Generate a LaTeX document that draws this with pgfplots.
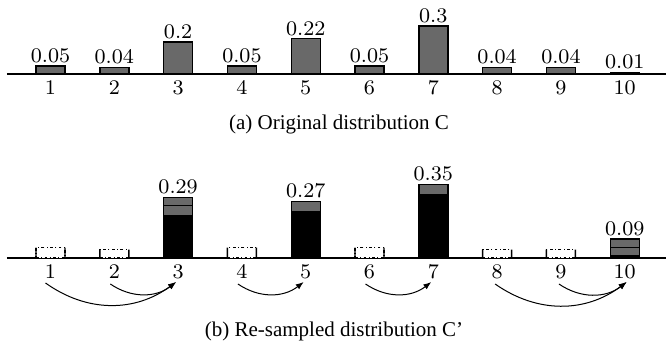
\documentclass[border=0pt]{standalone}
\usepackage{fontspec}
\setmainfont{Liberation Serif}
\usepackage{graphicx}
\usepackage{pgfplots}
\pgfplotsset{compat=1.18}
\usetikzlibrary{arrows.meta}
\definecolor{barg}{RGB}{105,105,105}
\begin{document}
\begin{tikzpicture}
\pgfplotsset{
  twoaxes/.style={
    anchor=south west, scale only axis,
    width=329.5pt, xmin=0.318, xmax=10.647, ymin=0,
    axis x line=bottom, axis y line=none,
    axis line style={-, line width=0.8pt},
    xtick={1,...,10}, major tick length=0pt, ytick=\empty,
    tick label style={font=\fontsize{8}{9}\selectfont},
    xticklabel={\scalebox{1.3}{\axisdefaultticklabel}},
    clip=false,
  },
  valbar/.style={ybar, bar shift=0pt, bar width=14.5pt, draw=black, line width=0.7pt},
  vals/.style={nodes near coords={\scalebox{1.3}{\pgfmathprintnumber[fixed,precision=2]{\pgfplotspointmeta}}},
    every node near coord/.append style={font=\fontsize{8}{9}\selectfont, inner sep=1.5pt, black}},
}
% Top: original distribution
\begin{axis}[twoaxes, at={(3.5pt,141pt)}, height=28pt, ymax=0.35]
\addplot[valbar, fill=barg, vals] coordinates {(1,0.05)(2,0.04)(3,0.2)(4,0.05)(5,0.22)(6,0.05)(7,0.3)(8,0.04)(9,0.04)(10,0.01)};
\end{axis}
% Bottom: re-sampled distribution
\begin{axis}[twoaxes, at={(3.5pt,49pt)}, height=44pt, ymax=0.42]
\addplot[valbar, fill=barg, vals] coordinates {(3,0.29)(5,0.27)(7,0.35)(10,0.09)};
\addplot[valbar, fill=barg] coordinates {(3,0.25)(10,0.05)};
\addplot[valbar, fill=black] coordinates {(3,0.2)(5,0.22)(7,0.3)(10,0.01)};
\addplot[ybar, bar shift=0pt, bar width=14.5pt, fill=white, draw=black, line width=0.6pt, dash pattern=on 1.4pt off 1.2pt on 0.5pt off 1.2pt] coordinates {(1,0.05)(2,0.04)(4,0.05)(6,0.05)(8,0.04)(9,0.04)};
\addplot[ybar, bar shift=-7.25pt, bar width=0.7pt, fill=black, draw=none] coordinates {(1,0.05)(2,0.04)(4,0.05)(6,0.05)(8,0.04)(9,0.04)};
\addplot[ybar, bar shift=7.25pt, bar width=0.7pt, fill=black, draw=none] coordinates {(1,0.05)(2,0.04)(4,0.05)(6,0.05)(8,0.04)(9,0.04)};
\begin{scope}[line width=0.5pt, -{Latex[length=4pt,width=3pt]}]
\draw ([xshift=-2.5pt,yshift=-12.5pt]axis cs:1,0) to[bend right=36] ([xshift=-1pt,yshift=-12pt]axis cs:3,0);
\draw ([xshift=-2pt,yshift=-13pt]axis cs:2,0) to[bend right=36] ([xshift=-1pt,yshift=-12pt]axis cs:3,0);
\draw ([xshift=-2pt,yshift=-13pt]axis cs:4,0) to[bend right=36] ([xshift=-1pt,yshift=-12pt]axis cs:5,0);
\draw ([xshift=-2pt,yshift=-13pt]axis cs:6,0) to[bend right=36] ([xshift=-1pt,yshift=-12pt]axis cs:7,0);
\draw ([xshift=-1pt,yshift=-13pt]axis cs:8,0) to[bend right=36] ([xshift=1pt,yshift=-12pt]axis cs:10,0);
\draw ([xshift=-1pt,yshift=-13pt]axis cs:9,0) to[bend right=36] ([xshift=1pt,yshift=-12pt]axis cs:10,0);
\end{scope}
\end{axis}
\node[font=\fontsize{10.5}{12}\selectfont] at (169.5pt,116pt) {(a) Original distribution C};
\node[font=\fontsize{10.5}{12}\selectfont] at (167pt,12.5pt) {(b) Re-sampled distribution C’};
\pgfresetboundingbox
\useasboundingbox (0,0) rectangle (333pt,178pt);
\end{tikzpicture}
\end{document}
